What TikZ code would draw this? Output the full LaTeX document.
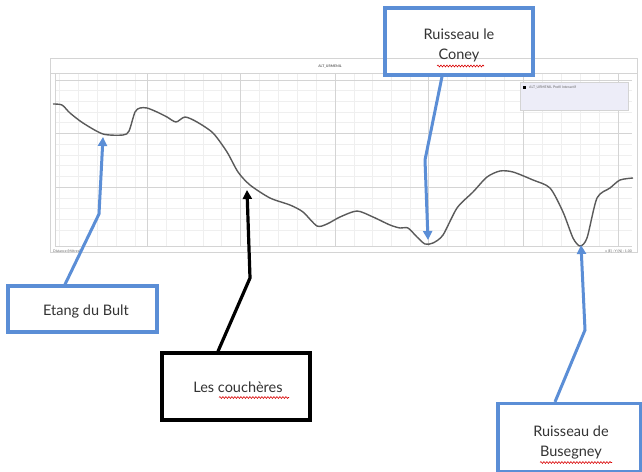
\documentclass[tikz,border=0pt]{standalone}
\usepackage{fontspec}
\setmainfont{Lato}
\usetikzlibrary{arrows.meta,decorations.pathmorphing}
\definecolor{bluebox}{HTML}{5B8ED6}
\definecolor{curvec}{HTML}{5A5A5A}
\definecolor{gridc}{HTML}{D4D4D4}
\definecolor{minorc}{HTML}{EFEFEF}
\definecolor{legendc}{HTML}{EDEDF8}
\tikzset{
  labelbox/.style={draw=bluebox,line width=3.2pt,minimum width=#1,inner sep=0pt},
  blackbox/.style={draw=black,line width=3.4pt,inner sep=0pt},
  lbl/.style={font=\fontsize{14.5}{20}\selectfont,text=black!80,align=center},
  pointer/.style={line width=3pt,draw=bluebox,-{Triangle[length=9pt,width=9pt]}},
  blackpointer/.style={line width=3.2pt,draw=black,-{Triangle[length=9pt,width=9pt]}},
  wavy/.style={draw=red!85!black,line width=0.6pt,decorate,decoration={snake,amplitude=0.9pt,segment length=3pt}},
  tiny/.style={font=\fontsize{3.5}{4}\selectfont,text=black!60,inner sep=0pt},
}
\begin{document}
\begin{tikzpicture}[x=1pt,y=-1pt]
\useasboundingbox (0,0) rectangle (642,471);
\fill[white] (0,0) rectangle (642,471);
% chart frame
\draw[gridc,line width=0.6pt] (50,58) rectangle (637,252);
\draw[gridc,line width=0.5pt] (50,73) -- (637,73);
\node[tiny,font=\fontsize{3.5}{4}\bfseries] (title) at (330,66) {ALT\_URMENIL};
% minor grid
\foreach \x in {59,78,97,116,135,166,184,203,221,259,278,297,316,354,372,391,410,447,466,485,504,542,561,580,599} {
  \draw[minorc,line width=0.4pt] (\x,74) -- (\x,246);
}
\foreach \y in {90,101,112,122,144,155,165,176,198,208,219,230} {
  \draw[minorc,line width=0.4pt] (55,\y) -- (632,\y);
}
% major grid
\foreach \x in {147,240,335,428,523,618} {
  \draw[gridc,line width=0.7pt] (\x,74) -- (\x,246);
}
\foreach \y in {80,133,187} {
  \draw[gridc,line width=0.7pt] (55,\y) -- (632,\y);
}
\draw[gridc,line width=0.7pt] (55,74) -- (55,246) -- (632,246);
\node[tiny,anchor=west] (xlab) at (53,251) {Distance (Mètres)};
\node[tiny,anchor=east] (coord) at (632,251) {x (E) : Y (N) : 1.00};
% legend
\node[draw=gridc,fill=legendc,line width=0.5pt,minimum width=108pt,minimum height=28pt,inner sep=0pt] (legend) at (574,96) {};
\fill[black] (523,86) rectangle (526,89);
\node[tiny,anchor=west] (legtxt) at (529,87.5) {ALT\_URMENIL Profil Interactif};
% profile curve
\draw[curvec,line width=1.4pt,line join=round] plot[smooth,tension=0.45] coordinates {
(53,104) (62,105) (70,113) (83,123) (103,134) (123,135) (129,131) (135,112) (140,108)
(147,108) (157,112) (167,117) (176,122) (185,117) (197,122) (213,133) (227,152) (238,172)
(250,185) (270,198) (290,205) (303,212) (317,226) (327,224) (340,217) (357,211) (373,217)
(390,225) (400,228) (408,228) (417,237) (425,244) (433,243) (443,235) (457,208) (473,192)
(487,177) (500,171) (513,172) (533,180) (550,188) (563,212) (573,238) (580,246) (587,238)
(597,198) (610,188) (620,180) (633,178)};
% boxes
\node[labelbox=149pt,minimum height=46pt] (etang) at (82.5,309) {};
\node[lbl] (etangT) at (86,311) {Etang du Bult};
\node[blackbox,minimum width=148pt,minimum height=67pt] (couch) at (236,386.5) {};
\node[lbl] (couchT) at (238,387) {Les couchères};
\node[labelbox=148pt,minimum height=67pt] (coney) at (459,41.5) {};
\node[lbl] (coneyT) at (459,45) {Ruisseau le\\Coney};
\node[labelbox=143pt,minimum height=68pt] (buseg) at (569.5,437.5) {};
\node[lbl] (busegT) at (571,442) {Ruisseau de\\Busegney};
% spell-check underlines
\draw[wavy] (219,397.5) -- (289,397.5);
\draw[wavy] (437,66) -- (484,66);
\draw[wavy] (540,462.5) -- (612,462.5);
% pointer coordinates
\coordinate (eb) at (99,214);
\coordinate (et) at (103,137);
\coordinate (cb) at (250,278);
\coordinate (ct) at (247,190);
\coordinate (nb) at (425,160);
\coordinate (nt) at (428,240);
\coordinate (bb) at (585,330);
\coordinate (bt) at (581,245);
\draw[pointer] ([xshift=-17.5pt]etang.north) -- (eb) -- (et);
\draw[blackpointer] ([xshift=-18pt]couch.north) -- (cb) -- (ct);
\draw[pointer] ([xshift=-17pt]coney.south) -- (nb) -- (nt);
\draw[pointer] ([xshift=-14.5pt]buseg.north) -- (bb) -- (bt);
\end{tikzpicture}
\end{document}
